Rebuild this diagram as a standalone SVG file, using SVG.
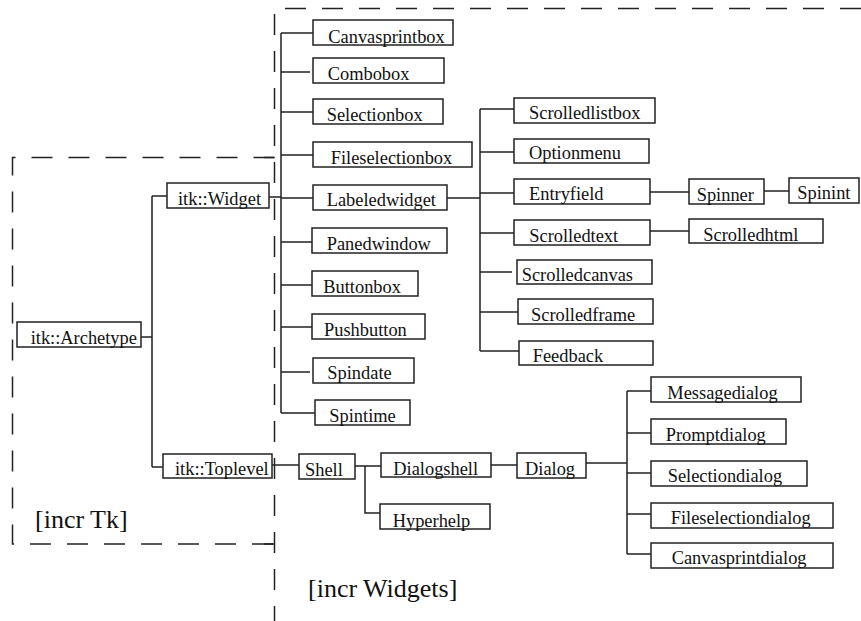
<svg xmlns="http://www.w3.org/2000/svg" width="861" height="621" viewBox="0 0 861 621">
<style>
.b{fill:#fff;stroke:#222;stroke-width:1.5}
.t{font-family:"Liberation Serif","Times New Roman",serif;font-size:18.4px;fill:#111}
.c{fill:none;stroke:#222;stroke-width:1.5}
.d{fill:none;stroke:#222;stroke-width:1.5;stroke-dasharray:21 16}
.L{font-family:"Liberation Serif","Times New Roman",serif;font-size:26px;fill:#111}
</style>
<rect width="861" height="621" fill="#fff"/>
<g id="regions">
<path class="d" d="M274.5,157.5 H12.5 V544 H274.5"/>
<path class="d" d="M861,8.5 H274.5 V621"/>
<path class="c" d="M264,157.5 H274.5 M264,544 H274.5"/>
<text class="L" x="35" y="528">[incr Tk]</text>
<text class="L" x="308" y="597">[incr Widgets]</text>
</g>
<g id="connectors">
<path class="c" d="M141,337 H152 M152,196 V467 M152,196 H167 M152,467 H163"/>
<path class="c" d="M269,197 H281 M281,33 V413"/>
<path class="c" d="M281,33 H313 M281,72 H310 M281,112 H313 M281,155 H313 M281,198 H313 M281,242 H312 M281,285 H312 M281,327 H312 M281,372 H310 M281,413 H315"/>
<path class="c" d="M447,198 H480 M480,109 V351"/>
<path class="c" d="M480,109 H514 M480,152 H514 M480,193 H514 M480,233 H514 M480,272 H512 M480,312 H518 M480,351 H519"/>
<path class="c" d="M650,192 H689 M764,191 H789 M650,231 H689"/>
<path class="c" d="M272,465 H299 M355,466 H381 M365,466 V513 H380 M491,465 H517"/>
<path class="c" d="M586,463 H627 M627,391 V554"/>
<path class="c" d="M627,391 H651 M627,433 H651 M627,473 H651 M627,514 H651 M627,554 H651"/>
</g>
<g id="n-archetype"><rect class="b" x="17" y="322" width="124" height="25"/><text class="t" x="30.7" y="344">itk::Archetype</text></g>
<g id="n-widget"><rect class="b" x="167" y="183" width="102" height="25"/><text class="t" x="178" y="205">itk::Widget</text></g>
<g id="n-toplevel"><rect class="b" x="163" y="454" width="109" height="24"/><text class="t" x="175" y="475">itk::Toplevel</text></g>
<g id="n-canvasprintbox"><rect class="b" x="313" y="20" width="140" height="25"/><text class="t" x="328.3" y="42.7">Canvasprintbox</text></g>
<g id="n-combobox"><rect class="b" x="313" y="58" width="131" height="25"/><text class="t" x="327.7" y="80">Combobox</text></g>
<g id="n-selectionbox"><rect class="b" x="313" y="99" width="130" height="25"/><text class="t" x="326.7" y="120.7">Selectionbox</text></g>
<g id="n-fileselectionbox"><rect class="b" x="313" y="142" width="159" height="25"/><text class="t" x="330.7" y="164">Fileselectionbox</text></g>
<g id="n-labeledwidget"><rect class="b" x="313" y="185" width="134" height="25"/><text class="t" x="326.7" y="206">Labeledwidget</text></g>
<g id="n-panedwindow"><rect class="b" x="312" y="228" width="135" height="25"/><text class="t" x="326.7" y="250">Panedwindow</text></g>
<g id="n-buttonbox"><rect class="b" x="312" y="271" width="106" height="25"/><text class="t" x="323.3" y="292.7">Buttonbox</text></g>
<g id="n-pushbutton"><rect class="b" x="312" y="314" width="113" height="25"/><text class="t" x="324" y="336">Pushbutton</text></g>
<g id="n-spindate"><rect class="b" x="313" y="358" width="101" height="25"/><text class="t" x="327.3" y="379.3">Spindate</text></g>
<g id="n-spintime"><rect class="b" x="315" y="400" width="95" height="25"/><text class="t" x="329.3" y="421.7">Spintime</text></g>
<g id="n-scrolledlistbox"><rect class="b" x="514" y="98" width="141" height="25"/><text class="t" x="529" y="119.3">Scrolledlistbox</text></g>
<g id="n-optionmenu"><rect class="b" x="514" y="139" width="135" height="24"/><text class="t" x="529" y="159.3">Optionmenu</text></g>
<g id="n-entryfield"><rect class="b" x="514" y="179" width="136" height="25"/><text class="t" x="529" y="200">Entryfield</text></g>
<g id="n-scrolledtext"><rect class="b" x="514" y="220" width="136" height="25"/><text class="t" x="529.3" y="241.7">Scrolledtext</text></g>
<g id="n-scrolledcanvas"><rect class="b" x="517" y="260" width="135" height="24"/><text class="t" x="521.7" y="281">Scrolledcanvas</text></g>
<g id="n-scrolledframe"><rect class="b" x="518" y="299" width="135" height="25"/><text class="t" x="531" y="321">Scrolledframe</text></g>
<g id="n-feedback"><rect class="b" x="519" y="341" width="134" height="24"/><text class="t" x="532.7" y="361.7">Feedback</text></g>
<g id="n-spinner"><rect class="b" x="689" y="179" width="75" height="25"/><text class="t" x="696.7" y="200.7">Spinner</text></g>
<g id="n-spinint"><rect class="b" x="789" y="178" width="70" height="25"/><text class="t" x="797.3" y="199.3">Spinint</text></g>
<g id="n-scrolledhtml"><rect class="b" x="689" y="219" width="134" height="24"/><text class="t" x="703.3" y="241">Scrolledhtml</text></g>
<g id="n-shell"><rect class="b" x="299" y="454" width="56" height="25"/><text class="t" x="305" y="476">Shell</text></g>
<g id="n-dialogshell"><rect class="b" x="381" y="453" width="110" height="24"/><text class="t" x="393.3" y="475">Dialogshell</text></g>
<g id="n-hyperhelp"><rect class="b" x="380" y="504" width="110" height="25"/><text class="t" x="392.7" y="526.7">Hyperhelp</text></g>
<g id="n-dialog"><rect class="b" x="517" y="453" width="69" height="25"/><text class="t" x="525" y="475">Dialog</text></g>
<g id="n-messagedialog"><rect class="b" x="651" y="377" width="150" height="25"/><text class="t" x="667.3" y="399">Messagedialog</text></g>
<g id="n-promptdialog"><rect class="b" x="651" y="419" width="135" height="25"/><text class="t" x="665.7" y="440.7">Promptdialog</text></g>
<g id="n-selectiondialog"><rect class="b" x="651" y="461" width="156" height="25"/><text class="t" x="667.7" y="482.3">Selectiondialog</text></g>
<g id="n-fileselectiondialog"><rect class="b" x="651" y="503" width="182" height="25"/><text class="t" x="670.7" y="524.3">Fileselectiondialog</text></g>
<g id="n-canvasprintdialog"><rect class="b" x="651" y="543" width="182" height="25"/><text class="t" x="671.7" y="564.3">Canvasprintdialog</text></g>
</svg>
